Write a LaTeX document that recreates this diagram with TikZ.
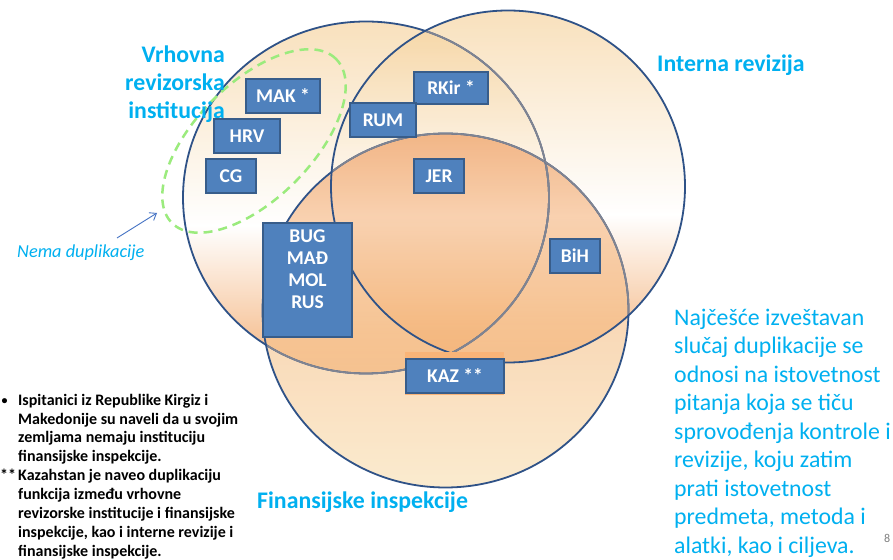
\documentclass[tikz,border=0pt]{standalone}
\usepackage{fontspec}
\setmainfont{Carlito}
\usetikzlibrary{arrows.meta}
\definecolor{cyanT}{RGB}{0,176,240}
\definecolor{boxF}{RGB}{79,129,189}
\definecolor{boxB}{RGB}{56,93,138}
\definecolor{circB}{RGB}{47,82,135}
\definecolor{circG}{RGB}{128,132,145}
\definecolor{greenD}{RGB}{155,235,125}
\definecolor{arrowC}{RGB}{68,114,196}
\definecolor{kazO}{RGB}{249,180,120}
\definecolor{pgN}{RGB}{128,128,128}
\definecolor{vOr}{RGB}{238,140,66}
\definecolor{vOrB}{RGB}{242,165,100}
\definecolor{vPe}{RGB}{245,205,145}
\definecolor{wOr}{RGB}{236,145,80}
\definecolor{wM}{RGB}{245,180,125}
\definecolor{wL}{RGB}{246,195,140}
\definecolor{wPe}{RGB}{248,222,175}
\pgfdeclareverticalshading{vennA}{100bp}{color(0bp)=(vOr); color(25bp)=(vOr); color(31bp)=(vOrB); color(46bp)=(white); color(75bp)=(vPe); color(100bp)=(vPe)}
\pgfdeclareverticalshading{vennC}{100bp}{color(0bp)=(wPe); color(25bp)=(wPe); color(45bp)=(wL); color(63bp)=(wM); color(75bp)=(wOr); color(100bp)=(wOr)}
\tikzset{
  circline/.style={draw=circB, line width=1.8pt},
  circgray/.style={draw=circG, line width=1.8pt},
  cbox/.style={draw=boxB, fill=boxF, line width=1.5pt, text=white, inner sep=0pt,
    font=\bfseries\fontsize{19.5}{22}\selectfont, minimum height=34pt},
  lbl/.style={text=cyanT, inner sep=0pt, font=\bfseries\fontsize{23.8}{28}\selectfont}
}
\def\cA{(366,361.5) ellipse [x radius=183, y radius=176]}
\def\cB{(508,372.5) ellipse [x radius=177, y radius=176]}
\def\cC{(445.5,248.5) ellipse [x radius=183, y radius=177]}
\begin{document}
\begin{tikzpicture}[x=1pt,y=1pt]
\useasboundingbox (0,0) rectangle (893,559);
\fill[white] (0,0) rectangle (893,559);
% circle fills
\shade[shading=vennA, fill opacity=0.6] \cA;
\shade[shading=vennA, fill opacity=0.6] \cB;
\shade[shading=vennC, fill opacity=0.6] \cC;
% circle outlines (parts lying under another circle look grey)
\draw[circline] \cA;
\begin{scope}\clip \cB; \draw[circgray] \cA; \end{scope}
\begin{scope}\clip \cC; \draw[circgray] \cA; \end{scope}
\draw[circline] \cC;
\begin{scope}\clip \cB; \draw[circgray] \cC; \end{scope}
\draw[circline] \cB;
% dashed ellipse
\draw[greenD, line width=2.5pt, dash pattern=on 9pt off 6pt, rotate around={45:(254,418)}] (254,418) ellipse [x radius=116, y radius=58];
% labels
\node[lbl, anchor=north east, align=right] (vri) at (225,514) {\rule{0pt}{17pt}Vrhovna\\revizorska\\institucija};
\node[lbl, anchor=base west] (ir) at (657,487) {Interna revizija};
\node[lbl, anchor=base west] (fi) at (257,51) {Finansijske inspekcije};
\node[anchor=west, inner sep=0pt, text=cyanT, font=\itshape\fontsize{18.3}{22}\selectfont] (nema) at (17,306) {Nema duplikacije};
\coordinate (arS) at (117,321);
\coordinate (arE) at (157,346);
\draw[arrowC, line width=0.9pt, -{Straight Barb[length=6pt,width=9pt]}] (arS) -- (arE);
% boxes
\node[fill=kazO, minimum width=99pt, minimum height=43pt, inner sep=0pt] (kazbg) at (454.5,185.5) {};
\node[cbox, minimum width=74pt] (mak) at (283,463) {MAK *};
\node[cbox, minimum width=66pt] (hrv) at (247,423) {HRV};
\node[cbox, minimum width=50pt] (cg) at (231,383) {CG};
\node[cbox, minimum width=74pt, minimum height=32pt] (rkir) at (451,471) {RKir *};
\node[cbox, minimum width=66pt] (rum) at (383,439) {RUM};
\node[cbox, minimum width=50pt] (jer) at (439,383) {JER};
\node[cbox, minimum width=89pt, minimum height=114pt, align=center] (bug) at (307.5,279) {BUG\\MAĐ\\MOL\\RUS\\\mbox{}};
\node[cbox, minimum width=50pt] (bih) at (575,303) {BiH};
\node[cbox, minimum width=98pt] (kaz) at (455,183) {KAZ **};
% notes
\node[anchor=north west, inner sep=0pt, align=left, font=\bfseries\fontsize{16}{18.9}\selectfont] (note) at (0,166) {\rule{0pt}{12pt}\makebox[18pt][l]{\hspace{1.5pt}\raisebox{1.2pt}{\fontsize{12}{12}\selectfont•}}Ispitanici iz Republike Kirgiz i\\
\hspace*{18pt}Makedonije su naveli da u svojim\\
\hspace*{18pt}zemljama nemaju instituciju\\
\hspace*{18pt}finansijske inspekcije.\\
\makebox[18pt][l]{**}Kazahstan je naveo duplikaciju\\
\hspace*{18pt}funkcija između vrhovne\\
\hspace*{18pt}revizorske institucije i finansijske\\
\hspace*{18pt}inspekcije, kao i interne revizije i\\
\hspace*{18pt}finansijske inspekcije.};
\node[anchor=north west, inner sep=0pt, align=left, text=cyanT, font=\fontsize{23.8}{28.5}\selectfont] (rtxt) at (674,251) {\rule{0pt}{17pt}Najčešće izveštavan\\
slučaj duplikacije se\\
odnosi na istovetnost\\
pitanja koja se tiču\\
sprovođenja kontrole i\\
revizije, koju zatim\\
prati istovetnost\\
predmeta, metoda i\\
alatki, kao i ciljeva.};
\node[anchor=west, inner sep=0pt, text=pgN, font=\fontsize{12}{14}\selectfont] (pg) at (884,21) {8};
\end{tikzpicture}
\end{document}
